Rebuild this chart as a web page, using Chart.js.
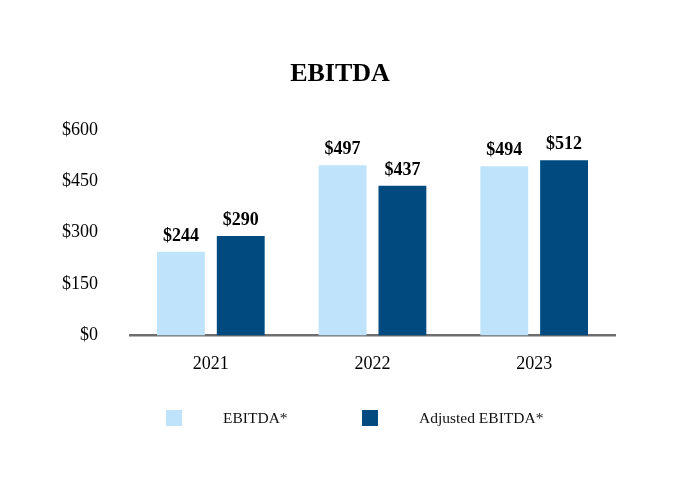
<!DOCTYPE html>
<html>
<head>
<meta charset="utf-8">
<script src="https://cdn.jsdelivr.net/npm/chart.js@4/dist/chart.umd.min.js"></script>
<style>
  html, body { margin: 0; padding: 0; background: #fff; }
  #wrap { position: relative; width: 680px; height: 500px; }
  canvas { position: absolute; left: 0; top: 0; }
  .lg { position: absolute; font-family: "Liberation Serif", "Times New Roman", serif; font-size: 15.5px; color: #111; line-height: 16px; }
  .sw { position: absolute; width: 16px; height: 16px; }
</style>
</head>
<body>
<div id="wrap">
  <canvas id="c" width="680" height="500"></canvas>
  <div class="sw" style="left:166px; top:410px; background:#BEE3FB"></div>
  <div class="lg" style="left:223px; top:410px;">EBITDA*</div>
  <div class="sw" style="left:362px; top:410px; background:#004A80"></div>
  <div class="lg" style="left:419px; top:410px;">Adjusted EBITDA*</div>
</div>
<script>
const categories = ["2021", "2022", "2023"];
const ebitda = [244, 497, 494];
const adjustedEbitda = [290, 437, 512];
const seriesNames = ["EBITDA*", "Adjusted EBITDA*"];
const yTicks = [0, 150, 300, 450, 600];
const chartTitle = "EBITDA";

const serif = '"Liberation Serif", "Times New Roman", serif';

const valueLabels = {
  id: 'valueLabels',
  afterDatasetsDraw(chart) {
    const ctx = chart.ctx;
    ctx.save();
    ctx.font = 'bold 18px ' + serif;
    ctx.fillStyle = '#000';
    ctx.textAlign = 'center';
    ctx.textBaseline = 'alphabetic';
    chart.data.datasets.forEach((ds, i) => {
      chart.getDatasetMeta(i).data.forEach((bar, j) => {
        ctx.fillText('$' + ds.data[j], bar.x, bar.y - 11);
      });
    });
    ctx.restore();
  }
};

const centerTitle = {
  id: 'centerTitle',
  afterDraw(chart) {
    const ctx = chart.ctx;
    ctx.save();
    ctx.font = 'bold 26px ' + serif;
    ctx.fillStyle = '#000';
    ctx.textAlign = 'center';
    ctx.textBaseline = 'middle';
    ctx.fillText(chartTitle, chart.width / 2, 74);
    ctx.restore();
  }
};

new Chart(document.getElementById('c'), {
  type: 'bar',
  data: {
    labels: categories,
    datasets: [
      { label: seriesNames[0], data: ebitda, backgroundColor: '#BEE3FB' },
      { label: seriesNames[1], data: adjustedEbitda, backgroundColor: '#004A80' }
    ]
  },
  options: {
    responsive: false,
    animation: false,
    devicePixelRatio: 1,
    layout: { padding: { left: 0, right: 65, top: 130, bottom: 107 } },
    plugins: {
      legend: { display: false },
      tooltip: { enabled: false },
      title: { display: false }
    },
    datasets: { bar: { categoryPercentage: 0.74, barPercentage: 0.8 } },
    scales: {
      x: {
        grid: { display: false, drawTicks: false },
        border: { display: true, color: '#6e6e6e', width: 2.5 },
        ticks: { color: '#000', font: { family: serif, size: 18 }, padding: 18 }
      },
      y: {
        min: 0, max: 600,
        afterBuildTicks(scale) { scale.ticks = yTicks.map(v => ({ value: v })); },
        afterFit(scale) { scale.width = 130; },
        grid: { display: false, drawTicks: false },
        border: { display: false },
        ticks: {
          color: '#000',
          font: { family: serif, size: 18 },
          padding: 32,
          callback: v => '$' + v
        }
      }
    }
  },
  plugins: [valueLabels, centerTitle]
});
</script>
</body>
</html>
